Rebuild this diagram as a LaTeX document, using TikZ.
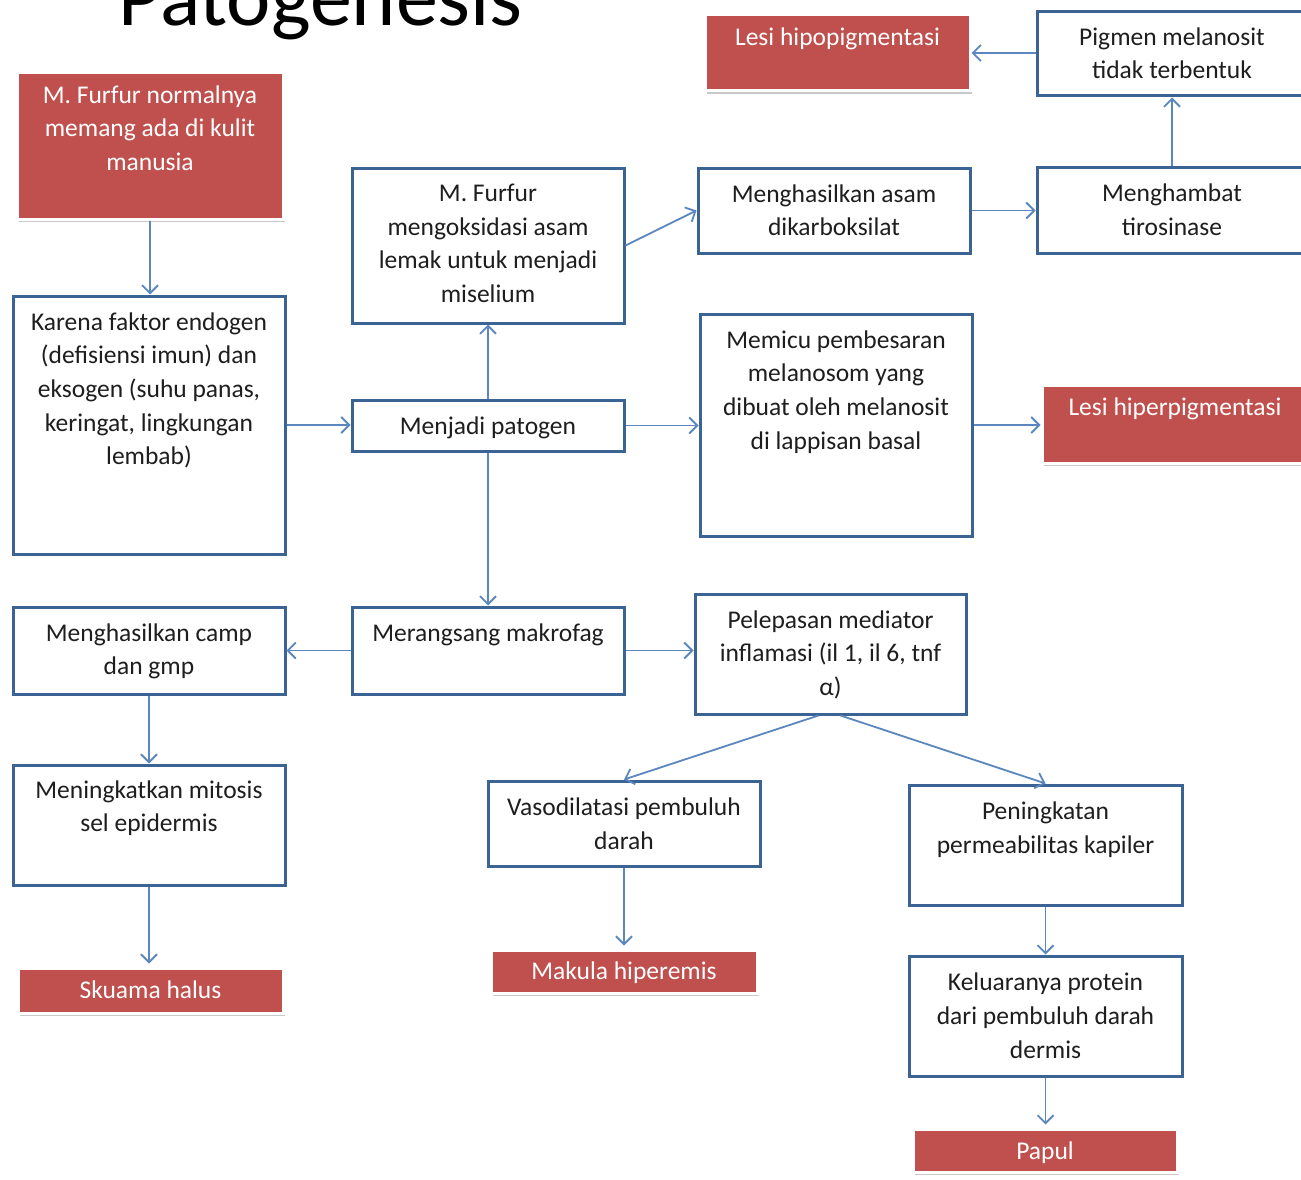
\documentclass[tikz,border=0pt]{standalone}
\usepackage{fontspec}
\setmainfont{Carlito}
\usetikzlibrary{arrows.meta,shadows}
\definecolor{boxblue}{HTML}{3B6494}
\definecolor{arrowblue}{HTML}{5B87BE}
\definecolor{redfill}{HTML}{C0504D}
\definecolor{txtdark}{HTML}{1E1E1E}
\newcommand{\bxt}[4]{\parbox[c][#2pt][t]{#1pt}{\centering\vspace*{#3pt}\strut #4}}
\tikzset{
  wbox/.style={draw=boxblue, line width=3pt, fill=white, inner sep=0pt, text=txtdark},
  rbox/.style={draw=white, line width=3pt, fill=redfill, inner sep=0pt, text=white,
    drop shadow={shadow xshift=2pt, shadow yshift=-3pt, fill=black!35, opacity=0.6}},
  arr/.style={draw=arrowblue, line width=1.8pt, -{Straight Barb[length=8pt,width=16pt,line width=1.8pt]}},
}
\begin{document}
\begin{tikzpicture}[x=1pt,y=-1pt,font=\fontsize{25.5}{33.7}\selectfont]
\fill[white] (0,0) rectangle (1301,1180);
\useasboundingbox (0,0) rectangle (1301,1180);

\node[anchor=base west, font=\fontsize{84}{90}\selectfont, text=black] (title) at (115,26) {Patogenesis};

% boxes
\node[rbox] (n1) at (150,146) {\bxt{266}{146}{6.5}{M. Furfur normalnya\\memang ada di kulit\\manusia}};
\node[wbox] (n2) at (149,425) {\bxt{272}{258}{10.5}{Karena faktor endogen\\(defisiensi imun) dan\\eksogen (suhu panas,\\keringat, lingkungan\\lembab)}};
\node[wbox] (n3) at (488,245.5) {\bxt{272}{155}{10}{M. Furfur\\mengoksidasi asam\\lemak untuk menjadi\\miselium}};
\node[wbox] (n4) at (488,425.5) {\bxt{272}{51}{11}{Menjadi patogen}};
\node[wbox] (n5) at (834,210.5) {\bxt{272}{85}{10.5}{Menghasilkan asam\\dikarboksilat}};
\node[wbox] (n6) at (1172,210) {\bxt{270}{86}{11}{Menghambat\\tirosinase}};
\node[wbox] (n7) at (1172,54) {\bxt{270}{84}{9.5}{Pigmen melanosit\\tidak terbentuk}};
\node[rbox] (n8) at (837.5,53) {\bxt{265}{76}{6.5}{Lesi hipopigmentasi}};
\node[wbox] (n9) at (836,425) {\bxt{272}{222}{10.5}{Memicu pembesaran\\melanosom yang\\dibuat oleh melanosit\\di lappisan basal}};
\node[rbox] (n10) at (1175,424) {\bxt{266}{78}{6.5}{Lesi hiperpigmentasi}};
\node[wbox] (n11) at (488,650.5) {\bxt{272}{87}{10.5}{Merangsang makrofag}};
\node[wbox] (n12) at (149,650.5) {\bxt{272}{87}{10.5}{Menghasilkan camp\\dan gmp}};
\node[wbox] (n13) at (830.5,654) {\bxt{271}{120}{10.5}{Pelepasan mediator\\inflamasi (il 1, il 6, tnf\\α)}};
\node[wbox] (n14) at (149,825) {\bxt{272}{120}{9.5}{Meningkatkan mitosis\\sel epidermis}};
\node[rbox] (n15) at (150.5,990.5) {\bxt{265}{45}{6.5}{Skuama halus}};
\node[wbox] (n16) at (624,823.5) {\bxt{272}{85}{11}{Vasodilatasi pembuluh\\darah}};
\node[rbox] (n17) at (624,971.5) {\bxt{266}{43}{5.5}{Makula hiperemis}};
\node[wbox] (n18) at (1045.5,845) {\bxt{273}{120}{11}{Peningkatan\\permeabilitas kapiler}};
\node[wbox] (n19) at (1045.5,1016) {\bxt{273}{120}{11}{Keluaranya protein\\dari pembuluh darah\\dermis}};
\node[rbox] (n20) at (1045,1150.5) {\bxt{264}{43}{6.5}{Papul}};

% connectors
\draw[arr] (n1.south) -- (n1.south |- n2.north);
\draw[arr] (n2.east) -- (n4.west |- n2.east);
\draw[arr] (n4.north) -- (n3.south);
\draw[arr] (n4.south) -- (n11.north);
\draw[arr] (n4.east) -- (n9.west |- n4.east);
\draw[arr] (n3.east) -- (n5.west);
\draw[arr] (n5.east) -- (n6.west |- n5.east);
\draw[arr] (n6.north) -- (n7.south);
\draw[arr] (n7.west |- n8.east) -- (n8.east);
\draw[arr] (n9.east) -- (n10.west |- n9.east);
\draw[arr] (n11.west) -- (n12.east);
\draw[arr] (n11.east) -- (n13.west |- n11.east);
\draw[arr] (n12.south) -- (n14.north);
\draw[arr, shorten >=3pt] (n14.south) -- (n14.south |- n15.north);
\draw[arr] ([xshift=-12pt]n13.south) -- (n16.north);
\draw[arr] ([xshift=10pt]n13.south) -- (n18.north);
\draw[arr, shorten >=3pt] (n16.south) -- (n17.north);
\draw[arr] (n18.south) -- (n19.north);
\draw[arr, shorten >=3pt] (n19.south) -- (n19.south |- n20.north);
\end{tikzpicture}
\end{document}
